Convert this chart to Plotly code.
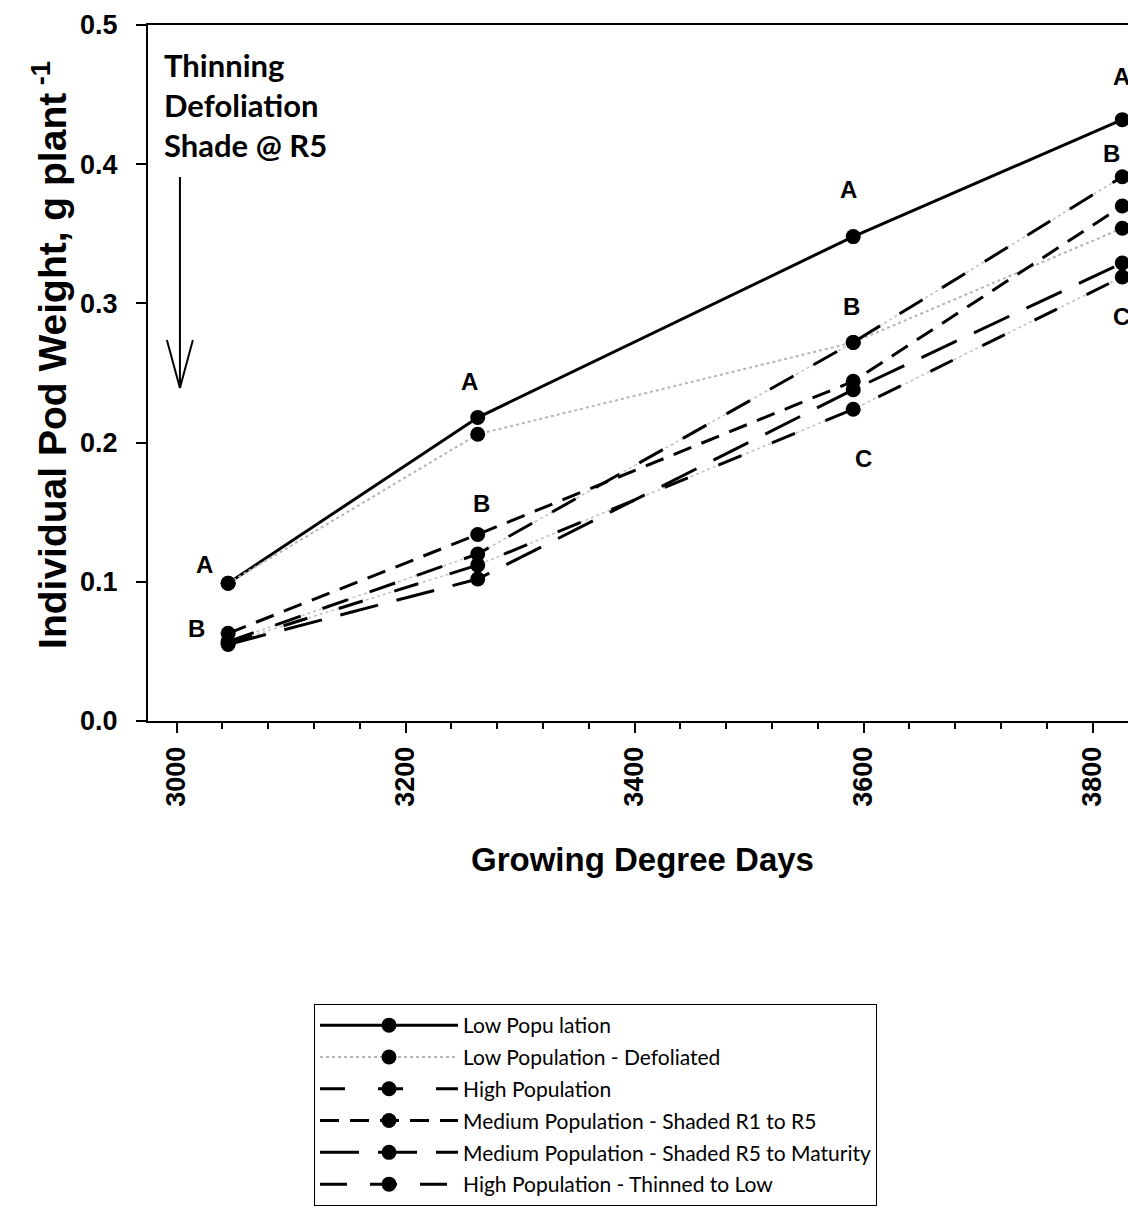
import plotly.graph_objects as go

# ---- data ----
gdd = [3045, 3263, 3591, 3826]
low_pop = [0.099, 0.218, 0.348, 0.432]
low_pop_defol = [0.099, 0.206, 0.272, 0.354]
high_pop = [0.056, 0.112, 0.224, 0.319]
med_shade_r1_r5 = [0.063, 0.134, 0.244, 0.370]
med_shade_r5_mat = [0.055, 0.102, 0.238, 0.329]
high_thinned = [0.057, 0.120, 0.272, 0.391]

series_names = [
    "Low Popu lation",
    "Low Population - Defoliated",
    "High Population",
    "Medium Population - Shaded R1 to R5",
    "Medium Population - Shaded R5 to Maturity",
    "High Population - Thinned to Low",
]

# significance letters (text, x, y)
letters = [
    ("A", 3024.7, 0.1121), ("B", 3017.5, 0.0661),
    ("A", 3255.5, 0.2438), ("B", 3266.4, 0.1564),
    ("A", 3586.5, 0.3815), ("B", 3589.5, 0.2976), ("C", 3599.7, 0.1887),
    ("A", 3825.3, 0.4629), ("B", 3816.6, 0.4078), ("C", 3825.3, 0.2904),
]

event_lines = ["Thinning", "Defoliation", "Shade @ R5"]
event_x = 2987
event_y = [0.4713, 0.4425, 0.4138]

x_ticks = [3000, 3200, 3400, 3600, 3800]
y_ticks = [0.0, 0.1, 0.2, 0.3, 0.4, 0.5]

AX_FONT = "Liberation Sans, Arial, sans-serif"
CAL_FONT = "Lato, sans-serif"

fig = go.Figure()

styles = [
    dict(color="black", width=3, dash="solid"),
    dict(color="#b5b5b5", width=2, dash="dot"),
    dict(color="black", width=3, dash="25px,33px"),
    dict(color="black", width=3, dash="19px,11px"),
    dict(color="black", width=3, dash="39px,19px"),
    dict(color="black", width=3, dash="27px,23px"),
]
values = [low_pop, low_pop_defol, high_pop, med_shade_r1_r5, med_shade_r5_mat, high_thinned]

# faint dotted underlays for the dash-dot series
for idx in (2, 5):
    fig.add_trace(go.Scatter(
        x=gdd, y=values[idx], mode="lines",
        line=dict(color="#c0c0c0", width=1.5, dash="dot"),
        showlegend=False, hoverinfo="skip",
    ))

for i, (name, vals, st) in enumerate(zip(series_names, values, styles)):
    fig.add_trace(go.Scatter(
        x=gdd, y=vals, mode="lines+markers", name=name,
        line=st, marker=dict(size=15, color="black"),
        legendgroup=f"g{i}",
    ))

annotations = []
for t, x, y in letters:
    annotations.append(dict(x=x, y=y, xref="x", yref="y", text=t, showarrow=False,
                            font=dict(family=AX_FONT, size=24, color="black", weight="bold"),
                            xanchor="center", yanchor="middle"))
for t, y in zip(event_lines, event_y):
    annotations.append(dict(x=event_x, y=y, xref="x", yref="y", text=t, showarrow=False,
                            font=dict(family=CAL_FONT, size=31, color="black", weight="bold"),
                            xanchor="left", yanchor="middle"))

annotations.append(dict(x=-0.1, y=0.526, xref="paper", yref="paper",
                        text="Individual Pod Weight, g plant<sup> -1</sup>", textangle=-90,
                        showarrow=False, xanchor="center", yanchor="middle",
                        font=dict(family=AX_FONT, size=39, color="black", weight="bold")))
annotations.append(dict(x=0.505, y=-0.1997, xref="paper", yref="paper",
                        text="Growing Degree Days", showarrow=False,
                        xanchor="center", yanchor="middle",
                        font=dict(family=AX_FONT, size=33, color="black", weight="bold")))

shapes = [
    dict(type="line", xref="x", yref="y", x0=3002.9, y0=0.3908, x1=3002.9, y1=0.2392,
         line=dict(color="black", width=2)),
    dict(type="line", xref="x", yref="y", x0=2991.5, y0=0.2737, x1=3002.9, y1=0.2392,
         line=dict(color="black", width=2)),
    dict(type="line", xref="x", yref="y", x0=3014.2, y0=0.2737, x1=3002.9, y1=0.2392,
         line=dict(color="black", width=2)),
]

fig.update_layout(
    width=1128, height=1209, autosize=False,
    margin=dict(l=148, r=0, t=25, b=488, pad=0),
    plot_bgcolor="white", paper_bgcolor="white",
    annotations=annotations, shapes=shapes,
    legend=dict(x=0.1694, y=-0.4066, xanchor="left", yanchor="top",
                bordercolor="black", borderwidth=1, bgcolor="white",
                font=dict(family=CAL_FONT, size=21, color="black"),
                itemwidth=138, tracegroupgap=1.5, traceorder="grouped"),
    showlegend=True,
)

fig.update_xaxes(
    range=[2975, 3831], tickmode="array", tickvals=x_ticks,
    ticktext=[str(v) for v in x_ticks], tickangle=-90,
    ticks="outside", ticklen=10, tickwidth=2, tickcolor="black",
    showline=True, linecolor="black", linewidth=2, mirror=True,
    showgrid=False, zeroline=False,
    tickfont=dict(family=AX_FONT, size=27, color="black", weight="bold"),
    ticklabelstandoff=3,
    minor=dict(tick0=3000, dtick=40, ticks="outside", ticklen=6, tickwidth=2,
               tickcolor="black", showgrid=False),
)
fig.update_yaxes(
    range=[0, 0.5], tickmode="array", tickvals=y_ticks,
    ticktext=[f"{v:.1f}" for v in y_ticks],
    ticks="outside", ticklen=10, tickwidth=2, tickcolor="black",
    showline=True, linecolor="black", linewidth=2, mirror=False,
    showgrid=False, zeroline=False,
    tickfont=dict(family=AX_FONT, size=27, color="black", weight="bold"),
    ticklabelstandoff=13,
)

fig.write_html(
    "out.html",
    config={"displayModeBar": False},
    post_script="document.body.style.margin='0';document.body.style.overflow='hidden';",
)
